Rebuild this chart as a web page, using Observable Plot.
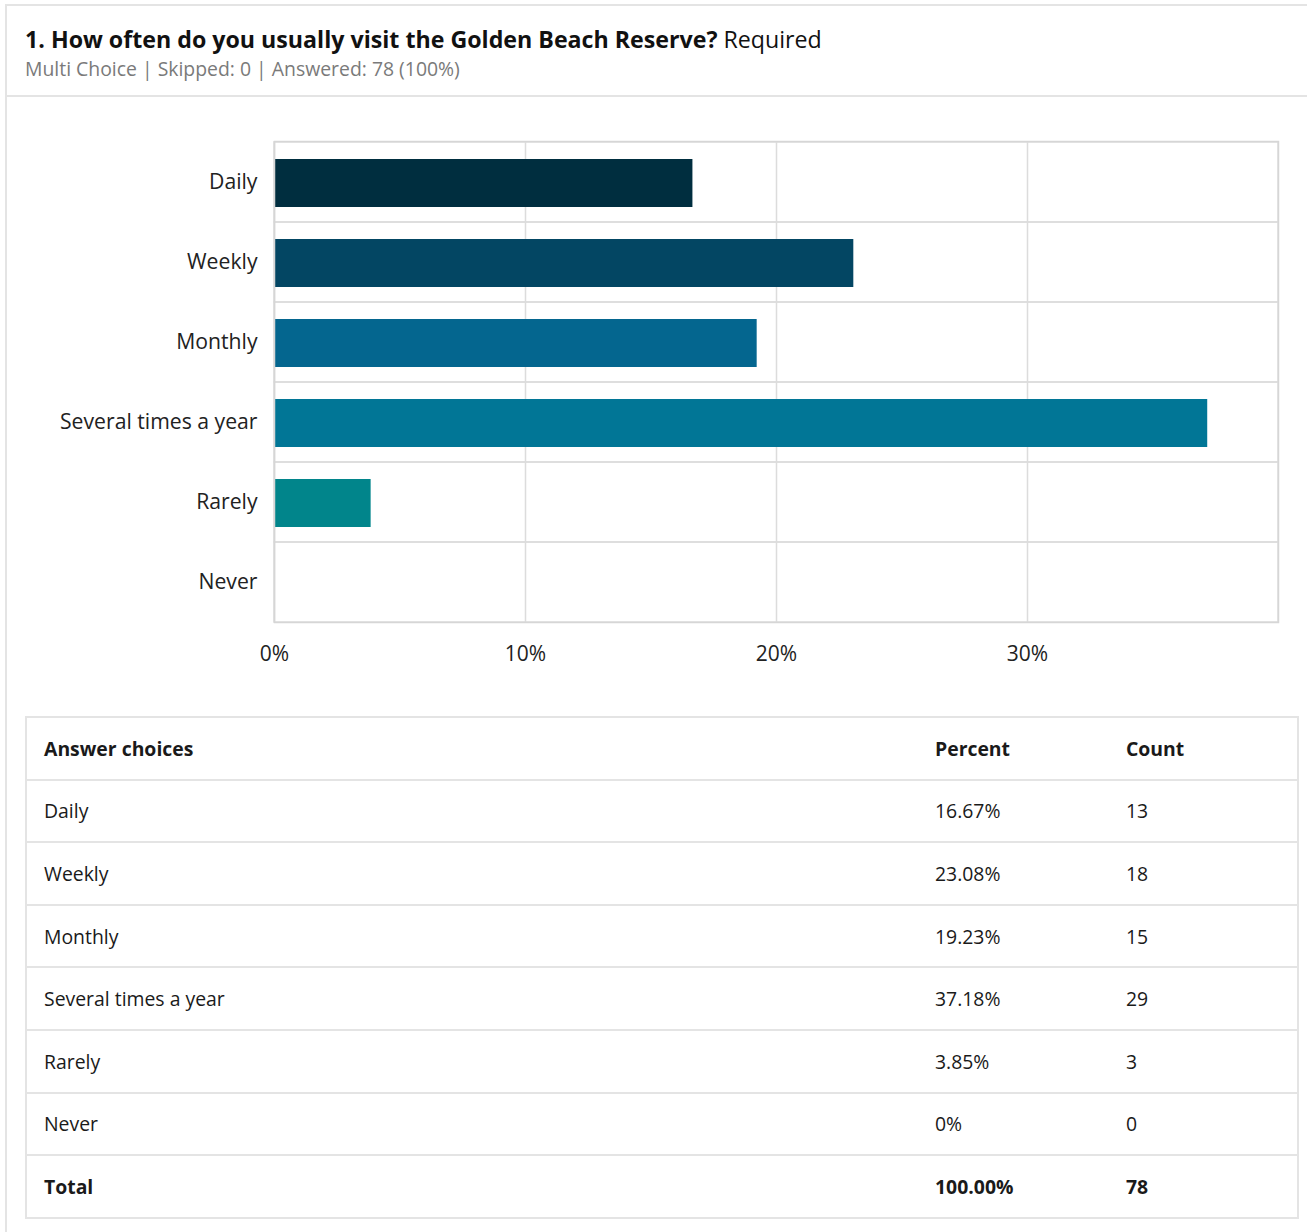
<!DOCTYPE html>
<html>
<head>
<meta charset="utf-8">
<script src="https://cdn.jsdelivr.net/npm/d3@7"></script>
<script src="https://cdn.jsdelivr.net/npm/@observablehq/plot@0.6"></script>
<style>
  html, body { margin: 0; padding: 0; background: #fff; }
  body { width: 1307px; height: 1232px; overflow: hidden; position: relative; font-family: "Open Sans", sans-serif; color: #222; }
  #card { position: absolute; left: 5px; top: 4px; width: 1320px; height: 1300px; border: 2px solid #e4e4e4; box-sizing: border-box; }
  #sep { position: absolute; left: 5px; top: 95px; width: 1320px; height: 2px; background: #e4e4e4; }
  #title { position: absolute; left: 25px; top: 27.5px; font-size: 23.2px; line-height: 1; color: #111; white-space: nowrap; }
  #title b { font-weight: 700; }
  #subtitle { position: absolute; left: 25px; top: 58.5px; font-size: 19.4px; line-height: 1; color: #7a7a7a; white-space: nowrap; }
  #chart { position: absolute; left: 0; top: 100px; }
  #chart svg { font-family: "Open Sans", sans-serif; }
  table { position: absolute; left: 25px; top: 716px; width: 1274px; border-collapse: collapse; font-size: 19.4px; color: #1a1a1a; }
  td { border: 2px solid #e4e4e4; height: 62.6px; padding: 0 0 0 17px; box-sizing: border-box; }
  td.c1 { width: 892px; border-right: none; }
  td.c2 { width: 191px; border-left: none; border-right: none; }
  td.c3 { border-left: none; }
  tr.b td { font-weight: 700; }
</style>
</head>
<body>
<div id="card"></div>
<div id="sep"></div>
<div id="title"><b>1. How often do you usually visit the Golden Beach Reserve?</b> Required</div>
<div id="subtitle">Multi Choice | Skipped: 0 | Answered: 78 (100%)</div>
<div id="chart"></div>
<table id="tbl"></table>
<script>
const categories = ["Daily", "Weekly", "Monthly", "Several times a year", "Rarely", "Never"];
const percents = [16.67, 23.08, 19.23, 37.18, 3.85, 0];
const counts = [13, 18, 15, 29, 3, 0];
const percentLabels = ["16.67%", "23.08%", "19.23%", "37.18%", "3.85%", "0%"];
const colors = ["#002e3f", "#034663", "#04668f", "#017696", "#01858b", "#01858b"];
const xTicks = [0, 10, 20, 30];
const totalLabel = ["Total", "100.00%", "78"];
const headers = ["Answer choices", "Percent", "Count"];

const data = categories.map((c, i) => ({category: c, percent: percents[i], color: colors[i]}));

const chart = Plot.plot({
  width: 1307,
  height: 572,
  marginLeft: 274,
  marginRight: 29,
  marginTop: 41,
  marginBottom: 50,
  style: {fontSize: "21px", color: "#222", background: "transparent"},
  x: {domain: [0, 40], ticks: xTicks, tickFormat: d => d + "%", label: null, tickSize: 0, tickPadding: 24},
  y: {domain: categories, padding: 0, label: null, tickSize: 0, tickPadding: 17},
  marks: [
    Plot.barX(categories, {x1: 0, x2: 40, y: d => d, fill: "none", stroke: "#dcdcdc", strokeWidth: 1.5}),
    Plot.ruleX(xTicks, {stroke: "#dcdcdc", strokeWidth: 1.5}),
    Plot.barX(data, {x: "percent", y: "category", fill: "color", insetTop: 17, insetBottom: 15}),
    Plot.frame({stroke: "#d6d6d6", strokeWidth: 1.5}),
    Plot.axisX({ticks: xTicks, tickFormat: d => d + "%", tickSize: 0, tickPadding: 24, fontSize: 21, label: null}),
    Plot.axisY({tickSize: 0, tickPadding: 17, fontSize: 21.2, label: null})
  ]
});
document.getElementById("chart").appendChild(chart);

const tbl = document.getElementById("tbl");
function addRow(cells, bold) {
  const tr = document.createElement("tr");
  if (bold) tr.className = "b";
  cells.forEach((t, i) => {
    const td = document.createElement("td");
    td.className = "c" + (i + 1);
    td.textContent = t;
    tr.appendChild(td);
  });
  tbl.appendChild(tr);
}
addRow(headers, true);
categories.forEach((c, i) => addRow([c, percentLabels[i], String(counts[i])], false));
addRow(totalLabel, true);
</script>
</body>
</html>
